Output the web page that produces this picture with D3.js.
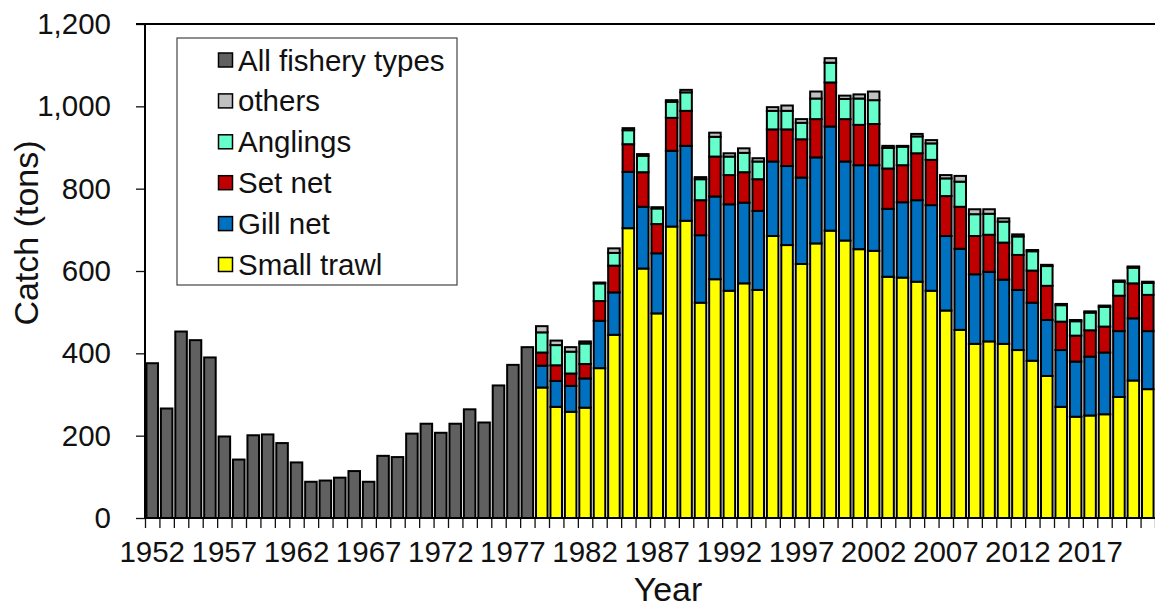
<!DOCTYPE html>
<html>
<head>
<meta charset="utf-8">
<script src="https://cdn.jsdelivr.net/npm/d3@7"></script>
<style>
  body { margin: 0; background: #fff; }
  svg { display: block; font-family: "Liberation Sans", Arial, sans-serif; }
  .axis text { font-size: 29.5px; fill: #111; }
  .axis path { display: none; }
  .axis line { stroke: #111; stroke-width: 1.3; }
</style>
</head>
<body>
<div id="chart"></div>
<script>
// catch before 1979 is only known for all fishery types together
var earlyYears = d3.range(1952, 1979);
var allTypes = [376, 266, 453, 432, 390, 198, 142, 201, 203, 182, 135, 88, 91, 98, 114, 88,
  151, 148, 205, 229, 207, 229, 264, 232, 322, 372, 415];

// 1979-2021 split by fishery type
var lateYears = d3.range(1979, 2022);
var smallTrawl = [317, 270, 258, 268, 364, 445, 704, 606, 497, 708,
  722, 523, 580, 552, 570, 554, 685, 663, 617, 667,
  698, 674, 653, 649, 586, 584, 574, 552, 504, 457,
  423, 429, 423, 408, 382, 345, 270, 246, 249, 252,
  294, 334, 313];
var gillNet = [53, 63, 63, 71, 115, 103, 137, 150, 146, 184,
  182, 164, 201, 210, 196, 192, 181, 192, 210, 209,
  253, 192, 204, 208, 165, 183, 198, 208, 181, 197,
  169, 169, 156, 146, 141, 136, 138, 134, 143, 150,
  160, 151, 141];
var setNet = [32, 38, 30, 35, 48, 65, 67, 84, 71, 80,
  85, 85, 97, 71, 74, 77, 78, 89, 93, 93,
  107, 103, 98, 100, 98, 90, 114, 110, 97, 102,
  93, 90, 90, 85, 78, 83, 69, 63, 64, 63,
  86, 85, 88];
var anglings = [49, 49, 53, 50, 43, 31, 34, 40, 38, 39,
  45, 51, 48, 45, 47, 43, 45, 45, 40, 50,
  48, 49, 64, 58, 50, 45, 41, 40, 43, 61,
  53, 51, 51, 45, 47, 48, 40, 35, 43, 48,
  34, 38, 29];
var others = [15, 11, 11, 5, 2, 11, 5, 4, 3, 4,
  6, 5, 10, 8, 11, 8, 9, 13, 9, 17,
  11, 8, 10, 21, 5, 2, 6, 8, 8, 14,
  12, 11, 8, 5, 3, 3, 3, 3, 3, 3,
  3, 3, 3];

var yTicks = [0, 200, 400, 600, 800, 1000, 1200];
var labelYears = [1952, 1957, 1962, 1967, 1972, 1977, 1982, 1987, 1992, 1997, 2002, 2007, 2012, 2017];

var keys = ['all', 'trawl', 'gill', 'set', 'angl', 'others'];
var names = {
  all: 'All fishery types', others: 'others', angl: 'Anglings',
  set: 'Set net', gill: 'Gill net', trawl: 'Small trawl'
};
var colors = {
  all: '#606060', others: '#c0c0c0', angl: '#66ffcc',
  set: '#c00000', gill: '#0070c0', trawl: '#ffff00'
};
var legendOrder = ['all', 'others', 'angl', 'set', 'gill', 'trawl'];

var years = earlyYears.concat(lateYears);
var rows = years.map(function (yr) {
  var r = { year: yr, all: 0, trawl: 0, gill: 0, set: 0, angl: 0, others: 0 };
  var i = earlyYears.indexOf(yr);
  if (i >= 0) {
    r.all = allTypes[i];
  } else {
    i = lateYears.indexOf(yr);
    r.trawl = smallTrawl[i];
    r.gill = gillNet[i];
    r.set = setNet[i];
    r.angl = anglings[i];
    r.others = others[i];
  }
  return r;
});

var width = 1155, height = 612;
var plotLeft = 145, plotRight = 1155, plotTop = 24, plotBottom = 518;

var x = d3.scaleBand()
  .domain(years)
  .range([plotLeft, plotRight])
  .paddingInner(0.2)
  .paddingOuter(0.1);
var y = d3.scaleLinear()
  .domain([0, 1200])
  .range([plotBottom, plotTop]);
// category boundaries for the x tick marks
var bounds = d3.scaleLinear()
  .domain([0, years.length])
  .range([plotLeft, plotRight]);

var svg = d3.select('#chart').append('svg')
  .attr('width', width)
  .attr('height', height);
svg.append('rect')
  .attr('width', width)
  .attr('height', height)
  .attr('fill', '#fff');

var series = d3.stack().keys(keys)(rows);
svg.append('g')
  .selectAll('g')
  .data(series)
  .join('g')
  .attr('fill', function (s) { return colors[s.key]; })
  .selectAll('rect')
  .data(function (s) { return s.filter(function (d) { return d[1] > d[0]; }); })
  .join('rect')
  .attr('x', function (d) { return x(d.data.year); })
  .attr('width', x.bandwidth())
  .attr('y', function (d) { return y(d[1]); })
  .attr('height', function (d) { return y(d[0]) - y(d[1]); })
  .attr('stroke', '#000')
  .attr('stroke-width', 2);

// y axis
svg.append('g')
  .attr('class', 'axis')
  .attr('transform', 'translate(' + plotLeft + ',0)')
  .call(d3.axisLeft(y).tickValues(yTicks).tickSize(9).tickPadding(25).tickFormat(d3.format(',')));

// x axis: tick marks between categories, labels every five years
svg.append('g')
  .attr('class', 'axis')
  .attr('transform', 'translate(0,' + plotBottom + ')')
  .call(d3.axisBottom(bounds).tickValues(d3.range(years.length + 1)).tickSize(10).tickFormat(''));
var xLabels = svg.append('g')
  .attr('class', 'axis')
  .attr('transform', 'translate(0,' + plotBottom + ')')
  .call(d3.axisBottom(x).tickValues(labelYears).tickSize(0));
xLabels.selectAll('text')
  .attr('y', 44)
  .attr('dy', null);

// frame lines
svg.append('line')
  .attr('x1', plotLeft).attr('x2', plotLeft)
  .attr('y1', plotTop).attr('y2', plotBottom)
  .attr('stroke', '#000').attr('stroke-width', 2);
svg.append('line')
  .attr('x1', plotLeft - 9).attr('x2', plotRight)
  .attr('y1', plotTop).attr('y2', plotTop)
  .attr('stroke', '#000').attr('stroke-width', 1.8);
svg.append('line')
  .attr('x1', plotLeft).attr('x2', plotRight)
  .attr('y1', plotBottom).attr('y2', plotBottom)
  .attr('stroke', '#000').attr('stroke-width', 2);

// axis titles
svg.append('text')
  .attr('x', 668)
  .attr('y', 601)
  .attr('text-anchor', 'middle')
  .attr('font-size', 34)
  .attr('fill', '#111')
  .text('Year');
svg.append('text')
  .attr('transform', 'translate(38,' + 233 + ') rotate(-90)')
  .attr('text-anchor', 'middle')
  .attr('font-size', 34)
  .attr('fill', '#111')
  .text('Catch (tons)');

// legend
var legend = svg.append('g')
  .attr('transform', 'translate(177,38)');
legend.append('rect')
  .attr('width', 280)
  .attr('height', 247)
  .attr('fill', '#fff')
  .attr('stroke', '#444')
  .attr('stroke-width', 1.2);
var item = legend.selectAll('g')
  .data(legendOrder)
  .join('g')
  .attr('transform', function (k, i) { return 'translate(0,' + (22 + i * 40.9) + ')'; });
item.append('rect')
  .attr('x', 41.5)
  .attr('y', -7)
  .attr('width', 14)
  .attr('height', 14)
  .attr('fill', function (k) { return colors[k]; })
  .attr('stroke', '#000')
  .attr('stroke-width', 1.5);
item.append('text')
  .attr('x', 61)
  .attr('y', 10.5)
  .attr('font-size', 29.5)
  .attr('fill', '#111')
  .text(function (k) { return names[k]; });
</script>
</body>
</html>
